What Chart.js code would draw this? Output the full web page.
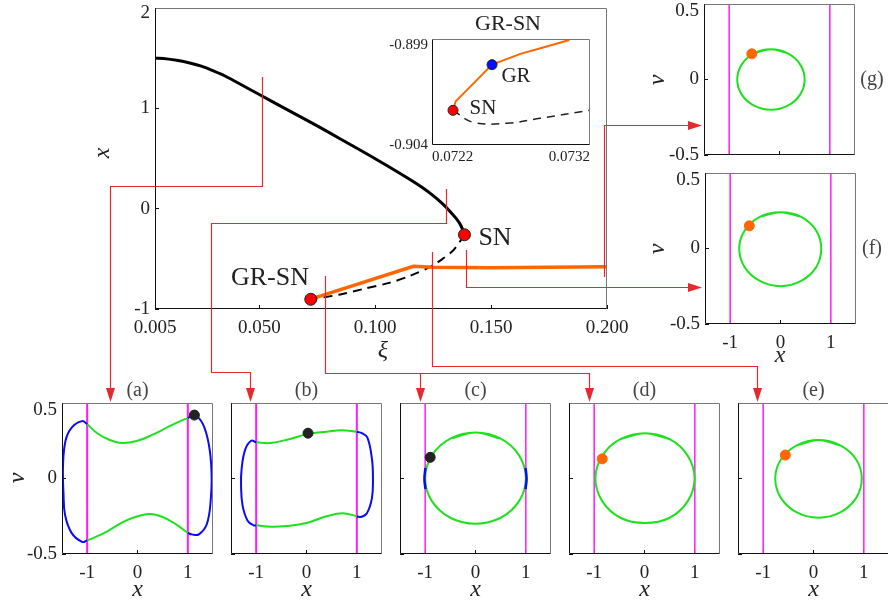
<!DOCTYPE html>
<html>
<head>
<meta charset="utf-8">
<script src="https://cdn.jsdelivr.net/npm/chart.js@4.4.1/dist/chart.umd.min.js"></script>
<style>
  html, body { margin: 0; padding: 0; background: #fff; }
  #page { position: relative; width: 888px; height: 608px; overflow: hidden; }
  canvas { position: absolute; }
</style>
</head>
<body>
<div id="page"></div>
<script>
// ---------- data ----------
// main bifurcation diagram (xi, x)
const xiTicks = [0.005, 0.05, 0.1, 0.15, 0.2];
const xiTickLabels = ['0.005', '0.050', '0.100', '0.150', '0.200'];
const xTicks = [-1, 0, 1, 2];
const xTickLabels = ['-1', '0', '1', ['', '2']];

const stableXi = [0.005, 0.01, 0.015, 0.02, 0.025, 0.03, 0.035, 0.045, 0.055, 0.065, 0.075, 0.085, 0.095, 0.105, 0.115, 0.12, 0.125, 0.129, 0.132, 0.135, 0.137, 0.1385];
const stableX  = [1.50, 1.493, 1.477, 1.452, 1.42, 1.375, 1.325, 1.20, 1.075, 0.95, 0.825, 0.695, 0.565, 0.43, 0.29, 0.215, 0.13, 0.05, -0.02, -0.10, -0.17, -0.26];
const unstableXi = [0.1385, 0.1365, 0.1335, 0.1285, 0.1237, 0.115, 0.106, 0.095, 0.085, 0.0722];
const unstableX  = [-0.26, -0.33, -0.42, -0.51, -0.58, -0.67, -0.74, -0.80, -0.855, -0.903];
const cycleXi = [0.0722, 0.1165, 0.125, 0.15, 0.175, 0.2];
const cycleX  = [-0.902, -0.575, -0.585, -0.59, -0.585, -0.58];
const snPoint = [0.1385, -0.26];
const grsnPoint = [0.0722, -0.903];

// inset (zoom on GR-SN)
const insetXiTicks = [0.0722, 0.0732];
const insetXiLabels = ['0.0722', '0.0732'];
const insetXTicks = [-0.904, -0.899];
const insetXLabels = ['-0.904', ['', '-0.899']];
const insetCycle = [[0.072333, -0.902364], [0.07235, -0.90194], [0.07243, -0.90134], [0.07258, -0.90021], [0.07276, -0.8997], [0.07287, -0.89947], [0.07307, -0.89905]];
const insetUnstable = [[0.072333, -0.902364], [0.07246, -0.90293], [0.072675, -0.90297], [0.072884, -0.90274], [0.0732, -0.90236]];
const insetSN = [0.072333, -0.902364];
const insetGR = [0.07258, -0.90021];

// phase portraits (x, v)
const panelXTicks = [-1, 0, 1];
const panelXLabels = ['-1', '0', '1'];
const panelVTicks = [-0.5, 0, 0.5];
const panelVLabels = ['-0.5', '0', ['', '0.5']];
const wallLeft = [[-1, -0.5], [-1, 0.5]];
const wallRight = [[1, -0.5], [1, 0.5]];

const aBlueLeft = [[-1, 0.36], [-1.1, 0.38], [-1.3, 0.34], [-1.43, 0.25], [-1.48, 0.08], [-1.47, -0.1], [-1.44, -0.24], [-1.31, -0.36], [-1.1, -0.42], [-1, -0.41]];
const aBlueRight = [[1, 0.4], [1.13, 0.42], [1.3, 0.36], [1.42, 0.22], [1.47, 0.05], [1.46, -0.12], [1.38, -0.3], [1.22, -0.37], [1.08, -0.37], [1, -0.36]];
const aGreenTop = [[-1, 0.36], [-0.8, 0.3], [-0.55, 0.255], [-0.3, 0.235], [0, 0.25], [0.3, 0.29], [0.6, 0.34], [0.85, 0.38], [1, 0.4]];
const aGreenBottom = [[1, -0.36], [0.75, -0.3], [0.5, -0.255], [0.25, -0.235], [0, -0.25], [-0.3, -0.29], [-0.6, -0.35], [-0.85, -0.39], [-1, -0.41]];
const aDot = [1.13, 0.42];

const bBlueLeft = [[-1, 0.24], [-1.1, 0.25], [-1.22, 0.19], [-1.29, 0.06], [-1.3, -0.05], [-1.27, -0.18], [-1.17, -0.28], [-1.05, -0.31], [-1, -0.31]];
const bBlueRight = [[1, 0.31], [1.1, 0.3], [1.21, 0.27], [1.3, 0.13], [1.32, 0], [1.3, -0.13], [1.2, -0.23], [1.08, -0.255], [1, -0.25]];
const bGreenTop = [[-1, 0.24], [-0.72, 0.235], [-0.35, 0.26], [0.03, 0.295], [0.4, 0.31], [0.7, 0.32], [1, 0.31]];
const bGreenBottom = [[1, -0.25], [0.72, -0.23], [0.4, -0.25], [0, -0.295], [-0.4, -0.315], [-0.7, -0.32], [-1, -0.31]];
const bDot = [0.03, 0.3];

// closed orbits (traced once round, the curve closes on itself)
const cGreen = [[0, 0.305], [0.5, 0.264], [0.866, 0.153], [1.0, 0], [0.866, -0.15], [0.5, -0.26], [0, -0.3], [-0.5, -0.26], [-0.866, -0.15], [-1.0, 0], [-0.866, 0.153], [-0.5, 0.264]];
const cBlueRight = [[0.995, 0.07], [1.015, 0], [0.995, -0.07]];
const cBlueLeft = [[-0.995, -0.07], [-1.015, 0], [-0.995, 0.07]];
const cDot = [-0.9, 0.14];

const dGreen = [[0.01, 0.3], [0.5, 0.26], [0.86, 0.15], [0.995, 0], [0.86, -0.15], [0.5, -0.26], [0.01, -0.295], [-0.48, -0.26], [-0.84, -0.15], [-0.975, 0], [-0.84, 0.15], [-0.48, 0.26]];
const dDot = [-0.84, 0.13];

const eGreen = [[0.1, 0.255], [0.53, 0.22], [0.845, 0.128], [0.96, 0], [0.845, -0.13], [0.53, -0.225], [0.1, -0.26], [-0.33, -0.225], [-0.645, -0.13], [-0.76, 0], [-0.645, 0.128], [-0.33, 0.22]];
const eDot = [-0.56, 0.155];

const fGreen = [[0, 0.24], [0.41, 0.21], [0.706, 0.12], [0.81, 0], [0.706, -0.125], [0.41, -0.215], [0, -0.25], [-0.41, -0.215], [-0.71, -0.125], [-0.82, 0], [-0.71, 0.12], [-0.41, 0.21]];
const fDot = [-0.62, 0.15];

const gGreen = [[-0.17, 0.2], [0.165, 0.173], [0.41, 0.1], [0.5, 0], [0.41, -0.1], [0.165, -0.173], [-0.17, -0.2], [-0.505, -0.173], [-0.75, -0.1], [-0.84, 0], [-0.75, 0.1], [-0.505, 0.173]];
const gDot = [-0.55, 0.17];

// xi values where the red connectors leave the diagram
const linkXi = { a: 0.0512, b: 0.1305, cd: 0.0783, e: 0.1243, f: 0.1392, g: 0.1987 };

// ---------- layout ----------
const SERIF = '"Liberation Serif", "DejaVu Serif", serif';
const GREEN = '#1fe01f', BLUE = '#0a0af5', MAGENTA = '#ff1aff', ORANGE = '#ff6600', RED = '#e52a2f';
const page = document.getElementById('page');

const pts = a => a.map(p => ({ x: p[0], y: p[1] }));
const zip = (xs, ys) => xs.map((x, i) => ({ x, y: ys[i] }));

const line = (data, color, width, o = {}) => ({
  data, showLine: true, borderColor: color, borderWidth: width, borderDash: o.dash || [],
  pointRadius: 0, tension: o.tension ?? 0.4, fill: false
});
const dot = (p, color, border, r = 5) => ({
  data: pts([p]), showLine: false, pointRadius: r, backgroundColor: color,
  borderColor: border || color, borderWidth: 1
});

const boxPlugin = {
  id: 'box',
  afterDraw(ch) {
    const { ctx, chartArea: a } = ch;
    const L = Math.round(a.left) + 0.5, R = Math.round(a.right) - 0.5;
    const T = Math.round(a.top) + 0.5, B = Math.round(a.bottom) - 0.5;
    ctx.save();
    ctx.lineWidth = 1;
    ctx.strokeStyle = '#777';
    ctx.beginPath(); ctx.moveTo(L, T); ctx.lineTo(R, T); ctx.lineTo(R, B); ctx.stroke();
    ctx.strokeStyle = '#111';
    ctx.beginPath(); ctx.moveTo(L, T); ctx.lineTo(L, B); ctx.lineTo(R, B); ctx.stroke();
    ctx.restore();
  }
};

function axis(pos, min, max, ticks, labels, o = {}) {
  return {
    type: 'linear', position: pos, min, max,
    afterBuildTicks: s => { s.ticks = ticks.map(v => ({ value: v })); },
    border: { display: false },
    grid: { display: true, drawOnChartArea: false, drawTicks: o.ticks !== false, tickLength: -4, color: '#111', lineWidth: 1 },
    ticks: {
      display: !!labels, autoSkip: false, maxRotation: 0, minRotation: 0,
      align: o.align || 'center', padding: o.pad ?? 12, color: '#222',
      font: { family: SERIF, size: o.font || 19, lineHeight: o.lh || 1.2 },
      callback: (v, i) => labels ? labels[i] : ''
    }
  };
}

function makeChart(box, m, datasets, xAx, yAx) {
  const c = document.createElement('canvas');
  const W = box.w + m.l + m.r, H = box.h + m.t + m.b;
  c.width = W; c.height = H;
  Object.assign(c.style, { left: (box.l - m.l) + 'px', top: (box.t - m.t) + 'px', width: W + 'px', height: H + 'px' });
  page.appendChild(c);
  const fit = (size, horiz) => s => {
    s.paddingTop = s.paddingBottom = s.paddingLeft = s.paddingRight = 0;
    if (horiz) s.height = size; else s.width = size;
  };
  xAx.afterFit = fit(m.b, true);
  yAx.afterFit = fit(m.l, false);
  const ch = new Chart(c, {
    type: 'scatter',
    data: { datasets },
    options: {
      responsive: false, animation: false, devicePixelRatio: 1, events: [],
      layout: { padding: { left: 0, top: m.t, right: m.r, bottom: 0 } },
      plugins: { legend: { display: false }, tooltip: { enabled: false } },
      scales: { x: xAx, y: yAx }
    },
    plugins: [boxPlugin]
  });
  ch.$off = { x: box.l - m.l, y: box.t - m.t };
  return ch;
}

// ---------- main diagram ----------
const mainChart = makeChart({ l: 155, t: 8, w: 452, h: 301 }, { l: 60, t: 15, r: 35, b: 30 }, [
  dot(snPoint, '#ff0000', '#222', 6),
  dot(grsnPoint, '#ff0000', '#222', 6),
  line(zip(cycleXi, cycleX), ORANGE, 3.5, { tension: 0 }),
  line(zip(stableXi, stableX), '#000', 3, { tension: 0.3 }),
  line(zip(unstableXi, unstableX), '#000', 2, { dash: [9, 6], tension: 0.3 })
], axis('bottom', 0.005, 0.2, xiTicks, xiTickLabels), axis('left', -1, 2, xTicks, xTickLabels, { pad: 9, lh: 0.55 }));

// ---------- inset ----------
makeChart({ l: 432, t: 38, w: 158, h: 107 }, { l: 55, t: 5, r: 10, b: 20 }, [
  dot(insetGR, '#0010ff', '#222', 5),
  dot(insetSN, '#ff0000', '#222', 5),
  line(pts(insetCycle), ORANGE, 2, { tension: 0 }),
  line(pts(insetUnstable), '#222', 1.5, { dash: [8, 6], tension: 0.4 })
], axis('bottom', 0.0722, 0.0732, insetXiTicks, insetXiLabels, { ticks: false, pad: 3, font: 15, align: 'inner' }),
   axis('left', -0.904, -0.899, insetXTicks, insetXLabels, { ticks: false, pad: 4, font: 15, lh: 0.8 }));

// ---------- phase portraits ----------
function phase(box, m, sets, showX, showV, wallW) {
  return makeChart(box, m, sets.concat([line(pts(wallLeft), MAGENTA, wallW, { tension: 0 }), line(pts(wallRight), MAGENTA, wallW, { tension: 0 })]),
    axis('bottom', -1.5, 1.5, panelXTicks, showX ? panelXLabels : null),
    axis('left', -0.5, 0.5, panelVTicks, showV ? panelVLabels : null, { pad: 9, lh: 0.72 }));
}
const mSide = { l: 45, t: 8, r: 6, b: 30 };
const mBottom = { l: 6, t: 8, r: 6, b: 30 };
// closed orbit: run once round and overlap by a point at each end so the seam stays smooth
const orbit = (a, w = 2) => line(pts([a[a.length - 1], ...a, a[0], a[1]]), GREEN, w, { tension: 0.36 });
phase({ l: 62, t: 403, w: 151, h: 151 }, mSide, [
  dot(aDot, '#222'), line(pts(aBlueLeft), BLUE, 2), line(pts(aBlueRight), BLUE, 2),
  line(pts(aGreenTop), GREEN, 2), line(pts(aGreenBottom), GREEN, 2)
], true, true, 2);
phase({ l: 231, t: 403, w: 151, h: 151 }, mBottom, [
  dot(bDot, '#222'), line(pts(bBlueLeft), BLUE, 2), line(pts(bBlueRight), BLUE, 2),
  line(pts(bGreenTop), GREEN, 2), line(pts(bGreenBottom), GREEN, 2)
], true, false, 2);
phase({ l: 400, t: 403, w: 151, h: 151 }, mBottom, [
  dot(cDot, '#222'), line(pts(cBlueRight), BLUE, 2.5), line(pts(cBlueLeft), BLUE, 2.5), orbit(cGreen)
], true, false, 1.5);
phase({ l: 569, t: 403, w: 151, h: 151 }, mBottom, [dot(dDot, ORANGE), orbit(dGreen)], true, false, 1.5);
phase({ l: 738, t: 403, w: 151, h: 151 }, mBottom, [dot(eDot, ORANGE), orbit(eGreen)], true, false, 1.5);
phase({ l: 705, t: 173, w: 151, h: 151 }, mSide, [dot(fDot, ORANGE), orbit(fGreen)], true, true, 1.5);
phase({ l: 704, t: 4, w: 151, h: 151 }, { l: 45, t: 12, r: 6, b: 10 }, [dot(gDot, ORANGE), orbit(gGreen)], false, true, 1.5);

// ---------- overlay: connectors and labels ----------
const ov = document.createElement('canvas');
ov.width = 888; ov.height = 608;
Object.assign(ov.style, { left: '0px', top: '0px', width: '888px', height: '608px', pointerEvents: 'none' });
page.appendChild(ov);
const ctx = ov.getContext('2d');

const X = xi => Math.round(mainChart.scales.x.getPixelForValue(xi) + mainChart.$off.x) + 0.5;
const links = [
  { path: [[X(linkXi.a), 77], [X(linkXi.a), 186.5], [110.5, 186.5], [110.5, 390]], heads: [[110.5, 402, 'down']] },
  { path: [[X(linkXi.b), 189], [X(linkXi.b), 223.5], [211.5, 223.5], [211.5, 372.5], [250.5, 372.5], [250.5, 390]], heads: [[250.5, 402, 'down']] },
  { path: [[X(linkXi.cd), 276], [X(linkXi.cd), 373.5], [589.5, 373.5], [589.5, 390]], heads: [[589.5, 402, 'down']] },
  { path: [[420.5, 373.5], [420.5, 390]], heads: [[420.5, 402, 'down']] },
  { path: [[X(linkXi.e), 252], [X(linkXi.e), 366.5], [757.5, 366.5], [757.5, 390]], heads: [[757.5, 402, 'down']] },
  { path: [[X(linkXi.f), 250], [X(linkXi.f), 287.5], [690, 287.5]], heads: [[702, 287.5, 'right']] },
  { path: [[X(linkXi.g), 277], [X(linkXi.g), 125.5], [690, 125.5]], heads: [[702, 125.5, 'right']] }
];
ctx.strokeStyle = RED; ctx.fillStyle = RED; ctx.lineWidth = 1.2;
links.forEach(l => {
  ctx.beginPath();
  l.path.forEach((p, i) => i ? ctx.lineTo(p[0], p[1]) : ctx.moveTo(p[0], p[1]));
  ctx.stroke();
  l.heads.forEach(([x, y, dir]) => {
    ctx.beginPath();
    if (dir === 'down') { ctx.moveTo(x, y); ctx.lineTo(x - 4.5, y - 14); ctx.lineTo(x + 4.5, y - 14); }
    else { ctx.moveTo(x, y); ctx.lineTo(x - 14, y - 4.5); ctx.lineTo(x - 14, y + 4.5); }
    ctx.closePath(); ctx.fill();
  });
});

const texts = [
  { t: 'x', x: 103, y: 153, size: 24, it: true, rot: true },
  { t: 'ξ', x: 383, y: 351, size: 24, it: true },
  { t: 'SN', x: 495, y: 238, size: 26 },
  { t: 'GR-SN', x: 270, y: 278, size: 26 },
  { t: 'GR-SN', x: 508, y: 24, size: 22 },
  { t: 'GR', x: 516, y: 76, size: 21 },
  { t: 'SN', x: 483, y: 108, size: 21 },
  { t: '(g)', x: 872, y: 80, size: 20, c: '#444' },
  { t: '(f)', x: 872, y: 249, size: 20, c: '#444' },
  { t: 'v', x: 658, y: 80, size: 24, it: true, rot: true },
  { t: 'v', x: 658, y: 249, size: 24, it: true, rot: true },
  { t: 'v', x: 18, y: 478, size: 24, it: true, rot: true },
  { t: 'x', x: 780, y: 356, size: 24, it: true },
  { t: '(a)', x: 137.5, y: 391, size: 20, c: '#444' },
  { t: '(b)', x: 306.5, y: 391, size: 20, c: '#444' },
  { t: '(c)', x: 475.5, y: 391, size: 20, c: '#444' },
  { t: '(d)', x: 644.5, y: 391, size: 20, c: '#444' },
  { t: '(e)', x: 813.5, y: 391, size: 20, c: '#444' },
  { t: 'x', x: 137.5, y: 590, size: 24, it: true },
  { t: 'x', x: 306.5, y: 590, size: 24, it: true },
  { t: 'x', x: 475.5, y: 590, size: 24, it: true },
  { t: 'x', x: 644.5, y: 590, size: 24, it: true },
  { t: 'x', x: 813.5, y: 590, size: 24, it: true }
];
ctx.textAlign = 'center'; ctx.textBaseline = 'middle';
texts.forEach(s => {
  ctx.save();
  ctx.fillStyle = s.c || '#222';
  ctx.font = (s.it ? 'italic ' : '') + s.size + 'px ' + SERIF;
  ctx.translate(s.x, s.y);
  if (s.rot) ctx.rotate(-Math.PI / 2);
  ctx.fillText(s.t, 0, 0);
  ctx.restore();
});
</script>
</body>
</html>
